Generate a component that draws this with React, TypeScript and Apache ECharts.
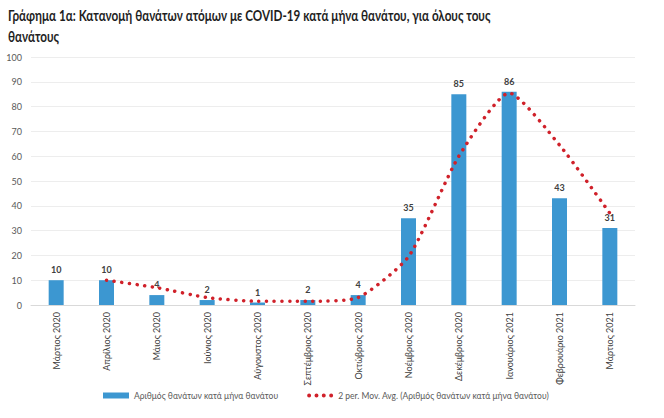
import React, { useEffect, useRef } from "react";
import * as echarts from "echarts";

const titleLines = [
  "Γράφημα 1α: Κατανομή θανάτων ατόμων με COVID-19 κατά μήνα θανάτου, για όλους τους",
  "θανάτους",
];

const categories = [
  "Μάρτιος 2020",
  "Απρίλιος 2020",
  "Μάιος 2020",
  "Ιούνιος 2020",
  "Αύγουστος 2020",
  "Σεπτέμβριος 2020",
  "Οκτώβριος 2020",
  "Νοέμβριος 2020",
  "Δεκέμβριος 2020",
  "Ιανουάριος 2021",
  "Φεβρουάριο 2021",
  "Μάρτιος 2021",
];

const deaths = [10, 10, 4, 2, 1, 2, 4, 35, 85, 86, 43, 31];

const movingAvg = [null, 10, 7, 3, 1.5, 1.5, 3, 19.5, 60, 85.5, 64.5, 37];

const yTicks = { min: 0, max: 100, interval: 10 };

const barName = "Αριθμός θανάτων κατά μήνα θανάτου";
const lineName = "2 per. Mov. Avg. (Αριθμός θανάτων κατά μήνα θανάτου)";

const FONT = "Lato, 'Open Sans', sans-serif";

const dotsIcon =
  "path://M1.2,3a1.8,1.8 0 1,0 3.6,0a1.8,1.8 0 1,0 -3.6,0Z" +
  "M7.9,3a1.8,1.8 0 1,0 3.6,0a1.8,1.8 0 1,0 -3.6,0Z" +
  "M14.5,3a1.8,1.8 0 1,0 3.6,0a1.8,1.8 0 1,0 -3.6,0Z" +
  "M21.2,3a1.8,1.8 0 1,0 3.6,0a1.8,1.8 0 1,0 -3.6,0Z";

export default function App() {
  const ref = useRef<HTMLDivElement>(null);

  useEffect(() => {
    document.body.style.margin = "0";
    const chart = echarts.init(ref.current!, null, { renderer: "svg" });
    const titleStyle = {
      fontFamily: FONT,
      fontSize: 15.5,
      fontWeight: "bold",
      fill: "#1f1f1f",
    };
    chart.setOption({
      animation: false,
      backgroundColor: "#ffffff",
      textStyle: { fontFamily: FONT },
      graphic: titleLines.map((t, i) => ({
        type: "text",
        x: 8,
        y: 7 + i * 21,
        scaleX: 0.755,
        style: { ...titleStyle, text: t },
      })),
      grid: { left: 31, right: 29, top: 57, bottom: 113, containLabel: false },
      legend: {
        left: 98,
        top: 386,
        itemGap: 29,
        itemWidth: 26,
        itemHeight: 6,
        textStyle: { fontFamily: FONT, fontSize: 8.5, color: "#595959" },
        data: [
          { name: barName, icon: "rect" },
          { name: lineName, icon: dotsIcon, itemStyle: { color: "#d0212a" } },
        ],
      },
      xAxis: {
        type: "category",
        data: categories,
        axisLine: { lineStyle: { color: "#d9d9d9", width: 1 } },
        axisTick: { show: false },
        axisLabel: {
          rotate: 90,
          interval: 0,
          fontSize: 9,
          color: "#404040",
          fontFamily: FONT,
          margin: 7,
        },
      },
      yAxis: {
        type: "value",
        min: yTicks.min,
        max: yTicks.max,
        interval: yTicks.interval,
        axisLine: { show: false },
        axisTick: { show: false },
        splitLine: { lineStyle: { color: "#ededed", width: 1 } },
        axisLabel: { fontSize: 9, color: "#595959", fontFamily: FONT, margin: 9 },
      },
      series: [
        {
          name: barName,
          type: "bar",
          data: deaths,
          barWidth: 15,
          itemStyle: { color: "#3c97d1" },
          label: {
            show: true,
            position: "top",
            distance: 6,
            fontSize: 9,
            fontWeight: "bold",
            color: "#404040",
            fontFamily: FONT,
          },
        },
        {
          name: lineName,
          type: "line",
          data: movingAvg,
          smooth: 0.2,
          symbol: "none",
          connectNulls: false,
          itemStyle: { color: "#d0212a" },
          lineStyle: {
            color: "#d0212a",
            width: 3.5,
            type: [0.1, 7.6],
            cap: "round",
          },
          z: 3,
        },
      ],
    });
    return () => chart.dispose();
  }, []);

  return (
    <div
      ref={ref}
      style={{ position: "absolute", left: 0, top: 0, width: 664, height: 418 }}
    />
  );
}
